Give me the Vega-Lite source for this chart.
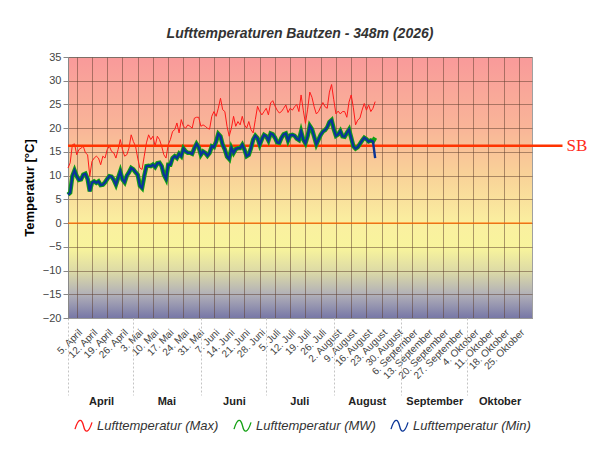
{
  "$schema": "https://vega.github.io/schema/vega-lite/v6.json",
  "width": 464,
  "height": 261,
  "autosize": {"type": "none"},
  "padding": {"left": 68, "top": 57, "right": 68, "bottom": 132},
  "background": "white",
  "view": {
    "stroke": "#a0a0a0",
    "fill": {"gradient": "linear", "x1": 0, "y1": 0, "x2": 0, "y2": 1,
      "stops": [
        {"offset": 0, "color": "#f99a9a"},
        {"offset": 0.27, "color": "#f9b598"},
        {"offset": 0.45, "color": "#f9d298"},
        {"offset": 0.64, "color": "#faf0a0"},
        {"offset": 0.73, "color": "#f8f49c"},
        {"offset": 0.82, "color": "#dcdaa6"},
        {"offset": 0.91, "color": "#b0afb8"},
        {"offset": 1, "color": "#7676a6"}
      ]}
  },
  "title": {"text": "Lufttemperaturen Bautzen - 348m (2026)", "fontSize": 14, "fontStyle": "italic", "fontWeight": "bold", "color": "#333333", "font": "Liberation Sans", "anchor": "middle", "offset": 10},
  "datasets": {
    "temp": [
      {"date":"2026-04-01","max":11.6,"mw":6.0,"min":6.0},
      {"date":"2026-04-02","max":12.7,"mw":6.4,"min":6.4},
      {"date":"2026-04-03","max":16.5,"mw":9.9,"min":9.9},
      {"date":"2026-04-04","max":16.7,"mw":11.1,"min":11.1},
      {"date":"2026-04-05","max":14.4,"mw":9.9,"min":9.9},
      {"date":"2026-04-06","max":15.5,"mw":9.1,"min":9.1},
      {"date":"2026-04-07","max":15.8,"mw":9.2,"min":9.2},
      {"date":"2026-04-08","max":16.2,"mw":10.2,"min":10.2},
      {"date":"2026-04-09","max":14.8,"mw":10.4,"min":10.4},
      {"date":"2026-04-10","max":14.4,"mw":9.3,"min":9.3},
      {"date":"2026-04-11","max":9.9,"mw":6.7,"min":6.7},
      {"date":"2026-04-12","max":13.0,"mw":8.5,"min":8.5},
      {"date":"2026-04-13","max":13.7,"mw":8.8,"min":8.8},
      {"date":"2026-04-14","max":14.1,"mw":8.5,"min":8.5},
      {"date":"2026-04-15","max":13.7,"mw":8.8,"min":8.8},
      {"date":"2026-04-16","max":12.3,"mw":8.0,"min":8.0},
      {"date":"2026-04-17","max":14.1,"mw":8.1,"min":8.1},
      {"date":"2026-04-18","max":13.7,"mw":8.6,"min":8.6},
      {"date":"2026-04-19","max":15.5,"mw":9.3,"min":9.3},
      {"date":"2026-04-20","max":16.2,"mw":9.9,"min":9.9},
      {"date":"2026-04-21","max":15.1,"mw":9.8,"min":9.8},
      {"date":"2026-04-22","max":14.8,"mw":9.1,"min":9.1},
      {"date":"2026-04-23","max":13.7,"mw":8.1,"min":8.1},
      {"date":"2026-04-24","max":15.5,"mw":9.5,"min":9.5},
      {"date":"2026-04-25","max":17.6,"mw":10.9,"min":10.9},
      {"date":"2026-04-26","max":15.5,"mw":9.2,"min":9.2},
      {"date":"2026-04-27","max":14.1,"mw":8.6,"min":8.6},
      {"date":"2026-04-28","max":14.4,"mw":10.0,"min":10.0},
      {"date":"2026-04-29","max":15.8,"mw":10.7,"min":10.7},
      {"date":"2026-04-30","max":18.6,"mw":11.6,"min":11.6},
      {"date":"2026-05-01","max":17.2,"mw":11.3,"min":11.3},
      {"date":"2026-05-02","max":16.2,"mw":10.7,"min":10.7},
      {"date":"2026-05-03","max":13.7,"mw":10.2,"min":10.2},
      {"date":"2026-05-04","max":11.6,"mw":7.9,"min":7.9},
      {"date":"2026-05-05","max":11.3,"mw":7.4,"min":7.4},
      {"date":"2026-05-06","max":14.1,"mw":9.9,"min":9.9},
      {"date":"2026-05-07","max":16.9,"mw":12.0,"min":12.0},
      {"date":"2026-05-08","max":18.6,"mw":12.1,"min":12.1},
      {"date":"2026-05-09","max":17.6,"mw":12.0,"min":12.0},
      {"date":"2026-05-10","max":18.3,"mw":12.3,"min":12.3},
      {"date":"2026-05-11","max":16.2,"mw":11.8,"min":11.8},
      {"date":"2026-05-12","max":18.3,"mw":12.6,"min":12.6},
      {"date":"2026-05-13","max":17.6,"mw":12.7,"min":12.7},
      {"date":"2026-05-14","max":16.2,"mw":12.0,"min":12.0},
      {"date":"2026-05-15","max":14.4,"mw":10.2,"min":10.2},
      {"date":"2026-05-16","max":13.7,"mw":9.3,"min":9.3},
      {"date":"2026-05-17","max":16.5,"mw":12.3,"min":12.3},
      {"date":"2026-05-18","max":17.6,"mw":12.3,"min":12.3},
      {"date":"2026-05-19","max":19.3,"mw":13.7,"min":13.7},
      {"date":"2026-05-20","max":19.7,"mw":14.1,"min":14.1},
      {"date":"2026-05-21","max":21.1,"mw":13.7,"min":13.7},
      {"date":"2026-05-22","max":19.0,"mw":14.6,"min":14.6},
      {"date":"2026-05-23","max":21.8,"mw":14.1,"min":14.1},
      {"date":"2026-05-24","max":20.4,"mw":15.7,"min":15.7},
      {"date":"2026-05-25","max":20.0,"mw":15.1,"min":15.1},
      {"date":"2026-05-26","max":20.7,"mw":14.8,"min":14.8},
      {"date":"2026-05-27","max":20.4,"mw":14.8,"min":14.8},
      {"date":"2026-05-28","max":20.0,"mw":14.6,"min":14.6},
      {"date":"2026-05-29","max":22.1,"mw":15.8,"min":15.8},
      {"date":"2026-05-30","max":22.3,"mw":16.7,"min":16.7},
      {"date":"2026-05-31","max":22.3,"mw":16.0,"min":16.0},
      {"date":"2026-06-01","max":20.4,"mw":14.4,"min":14.4},
      {"date":"2026-06-02","max":20.7,"mw":15.1,"min":15.1},
      {"date":"2026-06-03","max":20.4,"mw":14.8,"min":14.8},
      {"date":"2026-06-04","max":20.0,"mw":14.2,"min":14.2},
      {"date":"2026-06-05","max":19.8,"mw":14.8,"min":14.8},
      {"date":"2026-06-06","max":22.5,"mw":16.2,"min":16.2},
      {"date":"2026-06-07","max":23.5,"mw":16.0,"min":16.0},
      {"date":"2026-06-08","max":22.5,"mw":17.2,"min":17.2},
      {"date":"2026-06-09","max":24.2,"mw":18.8,"min":18.8},
      {"date":"2026-06-10","max":26.3,"mw":18.3,"min":18.3},
      {"date":"2026-06-11","max":23.9,"mw":16.5,"min":16.5},
      {"date":"2026-06-12","max":23.5,"mw":15.5,"min":15.5},
      {"date":"2026-06-13","max":20.4,"mw":14.0,"min":14.0},
      {"date":"2026-06-14","max":18.3,"mw":13.5,"min":13.5},
      {"date":"2026-06-15","max":20.0,"mw":15.8,"min":15.8},
      {"date":"2026-06-16","max":22.5,"mw":14.8,"min":14.8},
      {"date":"2026-06-17","max":20.4,"mw":15.6,"min":15.6},
      {"date":"2026-06-18","max":21.4,"mw":15.8,"min":15.8},
      {"date":"2026-06-19","max":20.7,"mw":15.8,"min":15.8},
      {"date":"2026-06-20","max":22.5,"mw":16.5,"min":16.5},
      {"date":"2026-06-21","max":20.7,"mw":15.5,"min":15.5},
      {"date":"2026-06-22","max":20.0,"mw":14.1,"min":14.1},
      {"date":"2026-06-23","max":21.4,"mw":14.4,"min":14.4},
      {"date":"2026-06-24","max":19.7,"mw":15.8,"min":15.8},
      {"date":"2026-06-25","max":19.0,"mw":17.6,"min":17.6},
      {"date":"2026-06-26","max":21.8,"mw":18.4,"min":18.4},
      {"date":"2026-06-27","max":24.6,"mw":17.9,"min":17.9},
      {"date":"2026-06-28","max":23.5,"mw":16.5,"min":16.5},
      {"date":"2026-06-29","max":22.8,"mw":17.7,"min":17.7},
      {"date":"2026-06-30","max":23.5,"mw":18.6,"min":18.6},
      {"date":"2026-07-01","max":24.2,"mw":18.3,"min":18.3},
      {"date":"2026-07-02","max":22.8,"mw":17.4,"min":17.4},
      {"date":"2026-07-03","max":25.3,"mw":18.9,"min":18.9},
      {"date":"2026-07-04","max":25.8,"mw":18.7,"min":18.7},
      {"date":"2026-07-05","max":24.7,"mw":18.0,"min":18.0},
      {"date":"2026-07-06","max":23.8,"mw":17.0,"min":17.0},
      {"date":"2026-07-07","max":23.2,"mw":16.9,"min":16.9},
      {"date":"2026-07-08","max":23.5,"mw":18.0,"min":18.0},
      {"date":"2026-07-09","max":24.2,"mw":18.7,"min":18.7},
      {"date":"2026-07-10","max":24.9,"mw":18.9,"min":18.9},
      {"date":"2026-07-11","max":23.3,"mw":17.4,"min":17.4},
      {"date":"2026-07-12","max":24.2,"mw":18.5,"min":18.5},
      {"date":"2026-07-13","max":23.8,"mw":18.6,"min":18.6},
      {"date":"2026-07-14","max":24.5,"mw":18.4,"min":18.4},
      {"date":"2026-07-15","max":25.0,"mw":17.8,"min":17.8},
      {"date":"2026-07-16","max":23.5,"mw":17.5,"min":17.5},
      {"date":"2026-07-17","max":27.0,"mw":19.3,"min":19.3},
      {"date":"2026-07-18","max":23.8,"mw":17.6,"min":17.6},
      {"date":"2026-07-19","max":21.0,"mw":16.8,"min":16.8},
      {"date":"2026-07-20","max":24.0,"mw":18.3,"min":18.3},
      {"date":"2026-07-21","max":27.6,"mw":20.5,"min":20.5},
      {"date":"2026-07-22","max":26.5,"mw":19.8,"min":19.8},
      {"date":"2026-07-23","max":24.5,"mw":18.2,"min":18.2},
      {"date":"2026-07-24","max":23.0,"mw":16.6,"min":16.6},
      {"date":"2026-07-25","max":23.5,"mw":17.6,"min":17.6},
      {"date":"2026-07-26","max":24.5,"mw":18.6,"min":18.6},
      {"date":"2026-07-27","max":25.4,"mw":19.3,"min":19.3},
      {"date":"2026-07-28","max":24.5,"mw":19.6,"min":19.6},
      {"date":"2026-07-29","max":24.2,"mw":20.2,"min":20.2},
      {"date":"2026-07-30","max":27.6,"mw":21.3,"min":21.3},
      {"date":"2026-07-31","max":29.2,"mw":21.7,"min":21.7},
      {"date":"2026-08-01","max":26.0,"mw":19.8,"min":19.8},
      {"date":"2026-08-02","max":23.0,"mw":18.4,"min":18.4},
      {"date":"2026-08-03","max":23.6,"mw":18.7,"min":18.7},
      {"date":"2026-08-04","max":23.0,"mw":19.4,"min":19.4},
      {"date":"2026-08-05","max":23.5,"mw":18.3,"min":18.3},
      {"date":"2026-08-06","max":23.5,"mw":18.2,"min":18.2},
      {"date":"2026-08-07","max":22.3,"mw":19.0,"min":19.0},
      {"date":"2026-08-08","max":25.5,"mw":19.7,"min":19.7},
      {"date":"2026-08-09","max":27.0,"mw":18.0,"min":18.0},
      {"date":"2026-08-10","max":24.3,"mw":16.2,"min":16.2},
      {"date":"2026-08-11","max":20.7,"mw":15.7,"min":15.7},
      {"date":"2026-08-12","max":21.7,"mw":16.0,"min":16.0},
      {"date":"2026-08-13","max":22.1,"mw":16.7,"min":16.7},
      {"date":"2026-08-14","max":23.8,"mw":17.4,"min":17.4},
      {"date":"2026-08-15","max":25.2,"mw":18.0,"min":18.0},
      {"date":"2026-08-16","max":23.8,"mw":17.7,"min":17.7},
      {"date":"2026-08-17","max":24.9,"mw":17.2,"min":17.2},
      {"date":"2026-08-18","max":23.5,"mw":17.4,"min":17.4},
      {"date":"2026-08-19","max":24.2,"mw":17.2,"min":17.2},
      {"date":"2026-08-20","max":25.6,"mw":18.0,"min":13.7}
    ],
    "ref": [{"name": "SB", "t": 16.3}],
    "zero": [{"t": 0}]
  },
  "resolve": {"axis": {"x": "independent", "y": "independent"}},
  "layer": [
    {
      "mark": {"type": "rect", "x2Offset": 13, "yOffset": 7, "y2Offset": 12,
        "color": {"gradient": "linear", "x1": 0, "y1": 0, "x2": 1, "y2": 0,
          "stops": [{"offset": 0, "color": "#9c9c9c"}, {"offset": 0.5, "color": "#c8c8c8"}, {"offset": 1, "color": "#ffffff"}]}},
      "encoding": {
        "x": {"datum": {"year": 2026, "month": 10, "date": 31, "utc": true}, "type": "temporal", "axis": null},
        "x2": {"datum": {"year": 2026, "month": 10, "date": 31, "utc": true}},
        "y": {"datum": 35, "type": "quantitative",
          "scale": {"domain": [-20, 35], "nice": false, "zero": false},
          "axis": {"orient": "left", "title": "Temperatur [°C]", "titleFont": "Liberation Sans", "titleFontSize": 13, "titleFontWeight": "bold", "titleColor": "#000000", "titlePadding": 6,
            "values": [-20, -15, -10, -5, 0, 5, 10, 15, 20, 25, 30, 35],
            "labelFont": "Liberation Sans", "labelFontSize": 11, "labelColor": "#444444", "labelPadding": 2, "labelOverlap": false,
            "tickSize": 5, "tickColor": "#888888", "domainColor": "#888888",
            "grid": true, "gridColor": "#5c3c2c", "gridOpacity": 0.5}
        },
        "y2": {"datum": -20}
      }
    },
    {
      "mark": {"type": "rect", "xOffset": 7, "y2Offset": 12,
        "color": {"gradient": "linear", "x1": 0, "y1": 0, "x2": 0, "y2": 1,
          "stops": [{"offset": 0, "color": "#9c9c9c"}, {"offset": 0.5, "color": "#c8c8c8"}, {"offset": 1, "color": "#ffffff"}]}},
      "encoding": {
        "x": {"datum": {"year": 2026, "month": 4, "date": 1, "utc": true}, "type": "temporal", "axis": null},
        "x2": {"datum": {"year": 2026, "month": 10, "date": 31, "utc": true}},
        "y": {"datum": -20, "type": "quantitative", "axis": null},
        "y2": {"datum": -20}
      }
    },
    {
      "data": {"name": "zero"},
      "mark": {"type": "rule", "color": "#ff6a00", "strokeWidth": 1.2},
      "encoding": {
        "x": {"datum": {"year": 2026, "month": 4, "date": 1, "utc": true}, "type": "temporal", "axis": null},
        "x2": {"datum": {"year": 2026, "month": 10, "date": 31, "utc": true}},
        "y": {"field": "t", "type": "quantitative", "axis": null}
      }
    },
    {
      "data": {"name": "temp"},
      "mark": {"type": "line", "strokeWidth": 1},
      "encoding": {
        "x": {"field": "date", "type": "temporal",
          "scale": {"type": "utc", "domain": [{"year": 2026, "month": 4, "date": 1, "utc": true}, {"year": 2026, "month": 10, "date": 31, "utc": true}]},
          "axis": {"orient": "bottom", "title": null, "grid": true, "ticks": false, "domain": true, "domainColor": "#999999",
            "gridColor": "#5c3c2c", "gridOpacity": 0.5,
            "values": [
              {"year":2026,"month":4,"date":5,"utc":true},{"year":2026,"month":4,"date":12,"utc":true},{"year":2026,"month":4,"date":19,"utc":true},{"year":2026,"month":4,"date":26,"utc":true},
              {"year":2026,"month":5,"date":3,"utc":true},{"year":2026,"month":5,"date":10,"utc":true},{"year":2026,"month":5,"date":17,"utc":true},{"year":2026,"month":5,"date":24,"utc":true},{"year":2026,"month":5,"date":31,"utc":true},
              {"year":2026,"month":6,"date":7,"utc":true},{"year":2026,"month":6,"date":14,"utc":true},{"year":2026,"month":6,"date":21,"utc":true},{"year":2026,"month":6,"date":28,"utc":true},
              {"year":2026,"month":7,"date":5,"utc":true},{"year":2026,"month":7,"date":12,"utc":true},{"year":2026,"month":7,"date":19,"utc":true},{"year":2026,"month":7,"date":26,"utc":true},
              {"year":2026,"month":8,"date":2,"utc":true},{"year":2026,"month":8,"date":9,"utc":true},{"year":2026,"month":8,"date":16,"utc":true},{"year":2026,"month":8,"date":23,"utc":true},{"year":2026,"month":8,"date":30,"utc":true},
              {"year":2026,"month":9,"date":6,"utc":true},{"year":2026,"month":9,"date":13,"utc":true},{"year":2026,"month":9,"date":20,"utc":true},{"year":2026,"month":9,"date":27,"utc":true},
              {"year":2026,"month":10,"date":4,"utc":true},{"year":2026,"month":10,"date":11,"utc":true},{"year":2026,"month":10,"date":18,"utc":true},{"year":2026,"month":10,"date":25,"utc":true}
            ],
            "labelExpr": "utcdate(datum.value) + '. ' + ['Januar','Februar','März','April','Mai','Juni','Juli','August','September','Oktober','November','Dezember'][utcmonth(datum.value)]",
            "labelAngle": -45, "labelFontSize": 10, "labelColor": "#444444", "labelFont": "Liberation Sans", "labelPadding": 9,
            "labelOverlap": false, "labelBound": false, "labelFlush": false}
        },
        "y": {"field": "max", "type": "quantitative", "axis": null},
        "color": {"datum": "Lufttemperatur (Max)", "type": "nominal",
          "scale": {"domain": ["Lufttemperatur (Max)", "Lufttemperatur (MW)", "Lufttemperatur (Min)"], "range": ["#ff1a1a", "#13a013", "#0a3596"]},
          "legend": {"orient": "none", "legendX": 6, "legendY": 359, "direction": "horizontal", "title": null,
            "labelFont": "Liberation Sans", "labelFontSize": 13, "labelFontStyle": "italic", "labelColor": "#333333", "labelLimit": 250, "labelOffset": 4,
            "symbolType": "M-1,0.4C-0.6,-0.9 -0.2,-0.9 0,0C0.2,0.9 0.6,0.9 1,-0.4", "symbolSize": 289, "symbolStrokeWidth": 1.3,
            "columnPadding": 12,
            "encode": {"symbols": {"update": {"fill": {"value": "transparent"}}}}}
        }
      }
    },
    {
      "data": {"name": "ref"},
      "mark": {"type": "rule", "color": "#ff3300", "strokeWidth": 2.5},
      "encoding": {
        "x": {"datum": {"year": 2026, "month": 4, "date": 1, "utc": true}, "type": "temporal",
          "axis": {"orient": "bottom", "title": null, "grid": false, "domain": false,
            "values": [
              {"year":2026,"month":4,"date":1,"utc":true},{"year":2026,"month":5,"date":1,"utc":true},{"year":2026,"month":6,"date":1,"utc":true},
              {"year":2026,"month":7,"date":1,"utc":true},{"year":2026,"month":8,"date":1,"utc":true},{"year":2026,"month":9,"date":1,"utc":true},{"year":2026,"month":10,"date":1,"utc":true}
            ],
            "ticks": true, "tickSize": 77, "tickDash": [2, 2], "tickColor": "#c4c4c4", "tickWidth": 1,
            "labelExpr": "['Januar','Februar','März','April','Mai','Juni','Juli','August','September','Oktober','November','Dezember'][utcmonth(datum.value)]",
            "labelOffset": 33, "labelPadding": 0, "labelAngle": 0, "labelFont": "Liberation Sans", "labelFontSize": 11, "labelFontWeight": "bold", "labelColor": "#222222",
            "labelOverlap": false, "labelBound": false, "labelFlush": false}
        },
        "x2": {"datum": {"year": 2026, "month": 11, "date": 14, "utc": true}},
        "y": {"field": "t", "type": "quantitative", "axis": null}
      }
    },
    {
      "data": {"name": "ref"},
      "mark": {"type": "text", "align": "left", "baseline": "middle", "dx": 4, "font": "Liberation Serif", "fontSize": 17, "color": "#ff2a1a"},
      "encoding": {
        "x": {"datum": {"year": 2026, "month": 11, "date": 14, "utc": true}, "type": "temporal", "axis": null},
        "y": {"field": "t", "type": "quantitative", "axis": null},
        "text": {"field": "name"}
      }
    },
    {
      "data": {"name": "temp"},
      "mark": {"type": "line", "strokeWidth": 4.4},
      "encoding": {
        "x": {"field": "date", "type": "temporal", "axis": null},
        "y": {"field": "mw", "type": "quantitative", "axis": null},
        "color": {"datum": "Lufttemperatur (MW)", "type": "nominal"}
      }
    },
    {
      "data": {"name": "temp"},
      "mark": {"type": "line", "strokeWidth": 2.4},
      "encoding": {
        "x": {"field": "date", "type": "temporal", "axis": null},
        "y": {"field": "min", "type": "quantitative", "axis": null},
        "color": {"datum": "Lufttemperatur (Min)", "type": "nominal"}
      }
    }
  ]
}
